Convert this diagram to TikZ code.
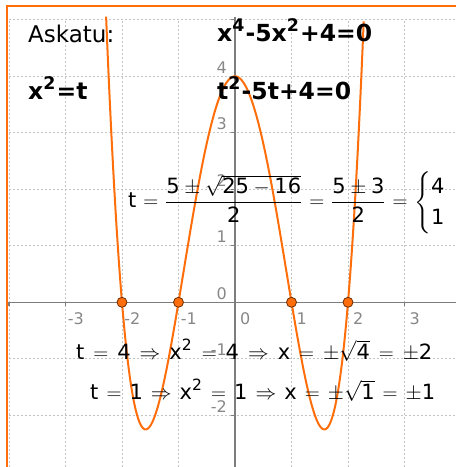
\documentclass[tikz,border=0pt]{standalone}
\usepackage{amsmath}
\usepackage{fontspec}
\setmainfont{DejaVu Sans}
\definecolor{curveorange}{RGB}{255,110,10}
\definecolor{rootbrown}{RGB}{110,45,0}
\definecolor{axisgray}{RGB}{125,125,125}
\definecolor{gridgray}{RGB}{195,195,195}
\definecolor{labelgray}{RGB}{135,135,135}
\newcommand{\tx}[1]{\mbox{#1}}
\newcommand{\pow}[1]{\raisebox{0.45em}{\scalebox{0.74}{#1}}\hspace{0.05em}}
\newcommand{\relgap}[1]{\thickmuskip=#1mu\relax}
\tikzset{
  gridline/.style={gridgray,line width=0.9pt,dash pattern=on 2pt off 2pt},
  axisline/.style={axisgray,line width=1.3pt},
  frameline/.style={curveorange,line width=2.3pt},
  curve/.style={curveorange,line width=2pt},
  root/.style={circle,draw=rootbrown,fill=curveorange,line width=0.8pt,minimum size=10pt,inner sep=0pt},
  xlab/.style={labelgray,font=\fontsize{16}{16}\selectfont,anchor=base,inner sep=0pt},
  ylab/.style={labelgray,font=\fontsize{16}{16}\selectfont,anchor=base east,inner sep=0pt},
  head/.style={font=\fontsize{23}{27}\selectfont,anchor=base west,inner sep=0pt},
  boldhead/.style={head,font=\fontsize{23.5}{27}\selectfont\bfseries},
  eqn/.style={font=\fontsize{21}{25}\selectfont,anchor=base west,inner sep=0pt}
}
\begin{document}
\begin{tikzpicture}[x=56.5pt,y=56.5pt]
  \useasboundingbox (-4.159,-2.915) rectangle (3.912,5.350);
  % grid
  \foreach \i in {-4,...,3}
    \draw[gridline] (\i,-2.915) -- (\i,5);
  \foreach \j in {-2,...,5}
    \draw[gridline] (-4,\j) -- (3.912,\j);
  % axes
  \draw[axisline] (-4.035,0) -- (3.912,0);
  \draw[axisline] (0,-2.915) -- (0,5.05);
  \foreach \i in {-4,...,3}
    \draw[axisline] (\i,0) -- ++(0,-4pt);
  \foreach \j in {-2,...,5}
    \draw[axisline] (0,\j) -- ++(-4pt,0);
  \foreach \i in {-3,...,3}
    \node[xlab] (xl\i) at (\i+0.182,-0.389) {\i};
  \foreach \j in {-2,...,4}
    \node[ylab] (yl\j) at (-0.142,\j+0.053) {\j};
  \draw[frameline] (3.912,5.239) -- (-4.035,5.239) -- (-4.035,-2.915);
  % the curve and its roots
  \draw[curve] plot[domain=-2.281:2.281,samples=240,smooth] (\x,{(\x)^4-5*(\x)^2+4});
  \foreach \r in {-2,-1,1,2}
    \node[root] (r\r) at (\r,0) {};
  % texts
  \node[head] (askatu) at (-3.664,4.589) {Askatu:};
  \node[boldhead] (eqx) at (-0.319,4.607) {x\pow{4}-5x\pow{2}+4=0};
  \node[boldhead] (subst) at (-3.664,3.581) {x\pow{2}=t};
  \node[boldhead] (eqt) at (-0.319,3.581) {t\pow{2}-5t+4=0};
  \node[eqn] (formula) at (-1.894,1.669)
    {$\relgap{6}\tx{t} = \dfrac{\tx{5} \pm \sqrt{\tx{25} - \tx{16}}}{\tx{2}} = \dfrac{\tx{5} \pm \tx{3}}{\tx{2}}
      = \left\{\renewcommand{\arraystretch}{1.25}\begin{array}{@{}l@{}}\tx{4}\\ \tx{1}\end{array}\right.$};
  \node[eqn] (rowfour) at (-2.814,-1.021)
    {$\relgap{7.8}\tx{t} = \tx{4} \Rightarrow \tx{x\pow{2}} = \tx{4} \Rightarrow \tx{x} = \pm\sqrt{\tx{4}} = \pm\tx{2}$};
  \node[eqn] (rowone) at (-2.566,-1.729)
    {$\relgap{7}\tx{t} = \tx{1} \Rightarrow \tx{x\pow{2}} = \tx{1} \Rightarrow \tx{x} = \pm\sqrt{\tx{1}} = \pm\tx{1}$};
\end{tikzpicture}
\end{document}
